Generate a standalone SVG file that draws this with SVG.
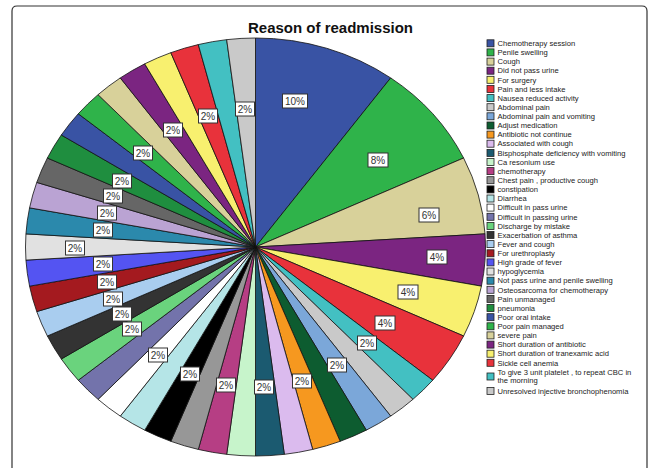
<svg xmlns="http://www.w3.org/2000/svg" width="649" height="468" viewBox="0 0 649 468">
<style>
.s{stroke:#111;stroke-width:0.8;stroke-linejoin:round}
.lb rect{fill:#fff;stroke:#333;stroke-width:1}
.lb text{font-family:"Liberation Sans",Arial,sans-serif;font-size:10px;fill:#333;text-anchor:middle}
.lg text{font-family:"Liberation Sans",Arial,sans-serif;font-size:7.6px;fill:#222}
.lg rect{stroke:#222;stroke-width:0.8}
.title{font-family:"Liberation Sans",Arial,sans-serif;font-size:15px;font-weight:bold;fill:#111;text-anchor:middle}
</style>
<rect width="649" height="468" fill="#fff"/>
<path d="M12,468 V11 Q12,6 17,6 H642 Q647,6 647,11 V468" fill="none" stroke="#333" stroke-width="1.2"/>
<text class="title" x="330.5" y="33">Reason of readmission</text>
<g id="pie">
<g id="s1"><path class="s" fill="#3953a4" d="M255.5,247 L255.5,38 A230,209 0 0 1 390.69,77.92 Z"/></g>
<g id="s2"><path class="s" fill="#2fb34a" d="M255.5,247 L390.69,77.92 A230,209 0 0 1 463.6,158.01 Z"/></g>
<g id="s3"><path class="s" fill="#d8d19a" d="M255.5,247 L463.6,158.01 A230,209 0 0 1 485.05,233.88 Z"/></g>
<g id="s4"><path class="s" fill="#7b2581" d="M255.5,247 L485.05,233.88 A230,209 0 0 1 481.43,286.16 Z"/></g>
<g id="s5"><path class="s" fill="#f8f06f" d="M255.5,247 L481.43,286.16 A230,209 0 0 1 463.61,335.99 Z"/></g>
<g id="s6"><path class="s" fill="#e8323b" d="M255.5,247 L463.61,335.99 A230,209 0 0 1 432.72,380.22 Z"/></g>
<g id="s7"><path class="s" fill="#43c0c2" d="M255.5,247 L432.72,380.22 A230,209 0 0 1 412.95,399.35 Z"/></g>
<g id="s8"><path class="s" fill="#c9c9c9" d="M255.5,247 L412.95,399.35 A230,209 0 0 1 390.69,416.08 Z"/></g>
<g id="s9"><path class="s" fill="#7ba7d9" d="M255.5,247 L390.69,416.08 A230,209 0 0 1 366.3,430.15 Z"/></g>
<g id="s10"><path class="s" fill="#0d5c30" d="M255.5,247 L366.3,430.15 A230,209 0 0 1 340.17,441.32 Z"/></g>
<g id="s11"><path class="s" fill="#f6981f" d="M255.5,247 L340.17,441.32 A230,209 0 0 1 312.7,449.43 Z"/></g>
<g id="s12"><path class="s" fill="#dbbbee" d="M255.5,247 L312.7,449.43 A230,209 0 0 1 284.33,454.35 Z"/></g>
<g id="s13"><path class="s" fill="#1b5a70" d="M255.5,247 L284.33,454.35 A230,209 0 0 1 255.5,456 Z"/></g>
<g id="s14"><path class="s" fill="#c7f4cb" d="M255.5,247 L255.5,456 A230,209 0 0 1 226.67,454.35 Z"/></g>
<g id="s15"><path class="s" fill="#b63e84" d="M255.5,247 L226.67,454.35 A230,209 0 0 1 198.3,449.43 Z"/></g>
<g id="s16"><path class="s" fill="#979797" d="M255.5,247 L198.3,449.43 A230,209 0 0 1 170.83,441.32 Z"/></g>
<g id="s17"><path class="s" fill="#000000" d="M255.5,247 L170.83,441.32 A230,209 0 0 1 144.7,430.15 Z"/></g>
<g id="s18"><path class="s" fill="#b5e5e7" d="M255.5,247 L144.7,430.15 A230,209 0 0 1 120.31,416.08 Z"/></g>
<g id="s19"><path class="s" fill="#ffffff" d="M255.5,247 L120.31,416.08 A230,209 0 0 1 98.05,399.35 Z"/></g>
<g id="s20"><path class="s" fill="#7373ab" d="M255.5,247 L98.05,399.35 A230,209 0 0 1 78.28,380.22 Z"/></g>
<g id="s21"><path class="s" fill="#6ad37d" d="M255.5,247 L78.28,380.22 A230,209 0 0 1 61.3,358.99 Z"/></g>
<g id="s22"><path class="s" fill="#333333" d="M255.5,247 L61.3,358.99 A230,209 0 0 1 47.39,335.99 Z"/></g>
<g id="s23"><path class="s" fill="#a9cdef" d="M255.5,247 L47.39,335.99 A230,209 0 0 1 36.76,311.58 Z"/></g>
<g id="s24"><path class="s" fill="#a41a1f" d="M255.5,247 L36.76,311.58 A230,209 0 0 1 29.57,286.16 Z"/></g>
<g id="s25"><path class="s" fill="#5454f2" d="M255.5,247 L29.57,286.16 A230,209 0 0 1 25.95,260.12 Z"/></g>
<g id="s26"><path class="s" fill="#e1e1e1" d="M255.5,247 L25.95,260.12 A230,209 0 0 1 25.95,233.88 Z"/></g>
<g id="s27"><path class="s" fill="#2b89ac" d="M255.5,247 L25.95,233.88 A230,209 0 0 1 29.57,207.84 Z"/></g>
<g id="s28"><path class="s" fill="#baa3d3" d="M255.5,247 L29.57,207.84 A230,209 0 0 1 36.76,182.42 Z"/></g>
<g id="s29"><path class="s" fill="#666666" d="M255.5,247 L36.76,182.42 A230,209 0 0 1 47.39,158.01 Z"/></g>
<g id="s30"><path class="s" fill="#1f8e3f" d="M255.5,247 L47.39,158.01 A230,209 0 0 1 61.3,135.01 Z"/></g>
<g id="s31"><path class="s" fill="#3953a4" d="M255.5,247 L61.3,135.01 A230,209 0 0 1 78.28,113.78 Z"/></g>
<g id="s32"><path class="s" fill="#2fb34a" d="M255.5,247 L78.28,113.78 A230,209 0 0 1 98.05,94.65 Z"/></g>
<g id="s33"><path class="s" fill="#d8d19a" d="M255.5,247 L98.05,94.65 A230,209 0 0 1 120.31,77.92 Z"/></g>
<g id="s34"><path class="s" fill="#7b2581" d="M255.5,247 L120.31,77.92 A230,209 0 0 1 144.7,63.85 Z"/></g>
<g id="s35"><path class="s" fill="#f8f06f" d="M255.5,247 L144.7,63.85 A230,209 0 0 1 170.83,52.68 Z"/></g>
<g id="s36"><path class="s" fill="#e8323b" d="M255.5,247 L170.83,52.68 A230,209 0 0 1 198.3,44.57 Z"/></g>
<g id="s37"><path class="s" fill="#43c0c2" d="M255.5,247 L198.3,44.57 A230,209 0 0 1 226.67,39.65 Z"/></g>
<g id="s38"><path class="s" fill="#c9c9c9" d="M255.5,247 L226.67,39.65 A230,209 0 0 1 255.5,38 Z"/></g>
</g>
<g id="labels" class="lb">
<g id="l1"><rect x="282.5" y="94" width="25" height="14"/><text x="295" y="104.6">10%</text></g>
<g id="l2"><rect x="368" y="153" width="20" height="14"/><text x="378" y="163.6">8%</text></g>
<g id="l3"><rect x="419" y="208" width="20" height="14"/><text x="429" y="218.6">6%</text></g>
<g id="l4"><rect x="427" y="250" width="20" height="14"/><text x="437" y="260.6">4%</text></g>
<g id="l5"><rect x="398" y="285" width="20" height="14"/><text x="408" y="295.6">4%</text></g>
<g id="l6"><rect x="375" y="316" width="20" height="14"/><text x="385" y="326.6">4%</text></g>
<g id="l7"><rect x="357.5" y="336" width="19" height="14"/><text x="367" y="346.6">2%</text></g>
<g id="l9"><rect x="327.5" y="358" width="19" height="14"/><text x="337" y="368.6">2%</text></g>
<g id="l11"><rect x="292.5" y="374" width="19" height="14"/><text x="302" y="384.6">2%</text></g>
<g id="l13"><rect x="254.5" y="380" width="19" height="14"/><text x="264" y="390.6">2%</text></g>
<g id="l15"><rect x="216.5" y="378" width="19" height="14"/><text x="226" y="388.6">2%</text></g>
<g id="l17"><rect x="180.5" y="367" width="19" height="14"/><text x="190" y="377.6">2%</text></g>
<g id="l19"><rect x="148.5" y="348" width="19" height="14"/><text x="158" y="358.6">2%</text></g>
<g id="l21"><rect x="122.5" y="322" width="19" height="14"/><text x="132" y="332.6">2%</text></g>
<g id="l22"><rect x="112.5" y="307" width="19" height="14"/><text x="122" y="317.6">2%</text></g>
<g id="l23"><rect x="103.5" y="292" width="19" height="14"/><text x="113" y="302.6">2%</text></g>
<g id="l24"><rect x="97.5" y="275" width="19" height="14"/><text x="107" y="285.6">2%</text></g>
<g id="l25"><rect x="93.5" y="257" width="19" height="14"/><text x="103" y="267.6">2%</text></g>
<g id="l26"><rect x="65.5" y="241" width="19" height="14"/><text x="75" y="251.6">2%</text></g>
<g id="l27"><rect x="93.5" y="223" width="19" height="14"/><text x="103" y="233.6">2%</text></g>
<g id="l28"><rect x="97.5" y="206" width="19" height="14"/><text x="107" y="216.6">2%</text></g>
<g id="l29"><rect x="103.5" y="189" width="19" height="14"/><text x="113" y="199.6">2%</text></g>
<g id="l30"><rect x="112.5" y="174" width="19" height="14"/><text x="122" y="184.6">2%</text></g>
<g id="l32"><rect x="133.5" y="146" width="19" height="14"/><text x="143" y="156.6">2%</text></g>
<g id="l34"><rect x="163.5" y="123" width="19" height="14"/><text x="173" y="133.6">2%</text></g>
<g id="l36"><rect x="198.5" y="109" width="19" height="14"/><text x="208" y="119.6">2%</text></g>
<g id="l38"><rect x="235.5" y="102" width="19" height="14"/><text x="245" y="112.6">2%</text></g>
</g>
<g id="legend" class="lg">
<g id="k1"><rect x="487" y="39.8" width="7" height="7" fill="#3953a4"/><text x="497.5" y="46">Chemotherapy session</text></g>
<g id="k2"><rect x="487" y="48.9" width="7" height="7" fill="#2fb34a"/><text x="497.5" y="55.1">Penile swelling</text></g>
<g id="k3"><rect x="487" y="58.1" width="7" height="7" fill="#d8d19a"/><text x="497.5" y="64.3">Cough</text></g>
<g id="k4"><rect x="487" y="67.2" width="7" height="7" fill="#7b2581"/><text x="497.5" y="73.4">Did not pass urine</text></g>
<g id="k5"><rect x="487" y="76.3" width="7" height="7" fill="#f8f06f"/><text x="497.5" y="82.5">For surgery</text></g>
<g id="k6"><rect x="487" y="85.5" width="7" height="7" fill="#e8323b"/><text x="497.5" y="91.7">Pain and less intake</text></g>
<g id="k7"><rect x="487" y="94.6" width="7" height="7" fill="#43c0c2"/><text x="497.5" y="100.8">Nausea reduced activity</text></g>
<g id="k8"><rect x="487" y="103.7" width="7" height="7" fill="#c9c9c9"/><text x="497.5" y="109.9">Abdominal pain</text></g>
<g id="k9"><rect x="487" y="112.8" width="7" height="7" fill="#7ba7d9"/><text x="497.5" y="119">Abdominal pain and vomiting</text></g>
<g id="k10"><rect x="487" y="122" width="7" height="7" fill="#0d5c30"/><text x="497.5" y="128.2">Adjust medication</text></g>
<g id="k11"><rect x="487" y="131.1" width="7" height="7" fill="#f6981f"/><text x="497.5" y="137.3">Antibiotic  not continue</text></g>
<g id="k12"><rect x="487" y="140.2" width="7" height="7" fill="#dbbbee"/><text x="497.5" y="146.4">Associated with cough</text></g>
<g id="k13"><rect x="487" y="149.4" width="7" height="7" fill="#1b5a70"/><text x="497.5" y="155.6">Bisphosphate deficiency  with vomiting</text></g>
<g id="k14"><rect x="487" y="158.5" width="7" height="7" fill="#c7f4cb"/><text x="497.5" y="164.7">Ca resonium use</text></g>
<g id="k15"><rect x="487" y="167.6" width="7" height="7" fill="#b63e84"/><text x="497.5" y="173.8">chemotherapy</text></g>
<g id="k16"><rect x="487" y="176.7" width="7" height="7" fill="#979797"/><text x="497.5" y="182.9">Chest pain , productive cough</text></g>
<g id="k17"><rect x="487" y="185.9" width="7" height="7" fill="#000000"/><text x="497.5" y="192.1">constipation</text></g>
<g id="k18"><rect x="487" y="195" width="7" height="7" fill="#b5e5e7"/><text x="497.5" y="201.2">Diarrhea</text></g>
<g id="k19"><rect x="487" y="204.1" width="7" height="7" fill="#ffffff"/><text x="497.5" y="210.3">Difficult in pass urine</text></g>
<g id="k20"><rect x="487" y="213.3" width="7" height="7" fill="#7373ab"/><text x="497.5" y="219.5">Difficult in passing urine</text></g>
<g id="k21"><rect x="487" y="222.4" width="7" height="7" fill="#6ad37d"/><text x="497.5" y="228.6">Discharge by mistake</text></g>
<g id="k22"><rect x="487" y="231.5" width="7" height="7" fill="#333333"/><text x="497.5" y="237.7">Exacerbation of asthma</text></g>
<g id="k23"><rect x="487" y="240.6" width="7" height="7" fill="#a9cdef"/><text x="497.5" y="246.8">Fever and cough</text></g>
<g id="k24"><rect x="487" y="249.8" width="7" height="7" fill="#a41a1f"/><text x="497.5" y="256">For urethroplasty</text></g>
<g id="k25"><rect x="487" y="258.9" width="7" height="7" fill="#5454f2"/><text x="497.5" y="265.1">High grade of fever</text></g>
<g id="k26"><rect x="487" y="268" width="7" height="7" fill="#e1e1e1"/><text x="497.5" y="274.2">hypoglycemia</text></g>
<g id="k27"><rect x="487" y="277.2" width="7" height="7" fill="#2b89ac"/><text x="497.5" y="283.4">Not pass urine and penile swelling</text></g>
<g id="k28"><rect x="487" y="286.3" width="7" height="7" fill="#baa3d3"/><text x="497.5" y="292.5">Osteosarcoma for chemotherapy</text></g>
<g id="k29"><rect x="487" y="295.4" width="7" height="7" fill="#666666"/><text x="497.5" y="301.6">Pain unmanaged</text></g>
<g id="k30"><rect x="487" y="304.5" width="7" height="7" fill="#1f8e3f"/><text x="497.5" y="310.7">pneumonia</text></g>
<g id="k31"><rect x="487" y="313.7" width="7" height="7" fill="#3953a4"/><text x="497.5" y="319.9">Poor oral intake</text></g>
<g id="k32"><rect x="487" y="322.8" width="7" height="7" fill="#2fb34a"/><text x="497.5" y="329">Poor pain managed</text></g>
<g id="k33"><rect x="487" y="331.9" width="7" height="7" fill="#d8d19a"/><text x="497.5" y="338.1">severe pain</text></g>
<g id="k34"><rect x="487" y="341.1" width="7" height="7" fill="#7b2581"/><text x="497.5" y="347.3">Short duration of antibiotic</text></g>
<g id="k35"><rect x="487" y="350.2" width="7" height="7" fill="#f8f06f"/><text x="497.5" y="356.4">Short duration of tranexamic acid</text></g>
<g id="k36"><rect x="487" y="359.3" width="7" height="7" fill="#e8323b"/><text x="497.5" y="365.5">Sickle cell anemia</text></g>
<g id="k37"><rect x="487" y="373" width="7" height="7" fill="#43c0c2"/><text x="497.5" y="374.6">To give 3 unit platelet , to repeat CBC in</text><text x="497.5" y="383.4">the morning</text></g>
<g id="k38"><rect x="487" y="387.5" width="7" height="7" fill="#c9c9c9"/><text x="497.5" y="393.7">Unresolved injective bronchophenomia</text></g>
</g>
</svg>
